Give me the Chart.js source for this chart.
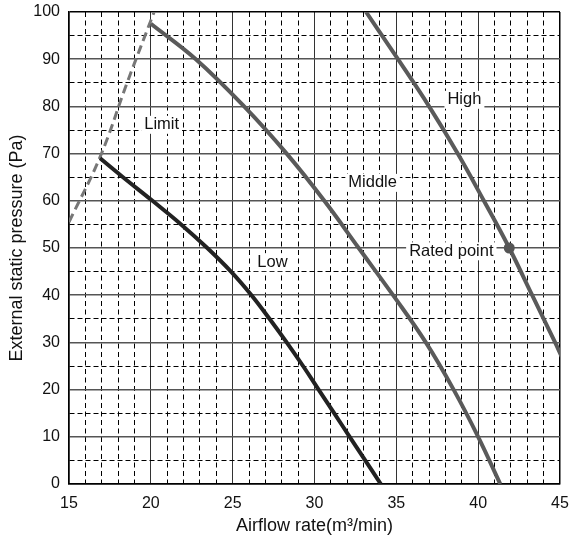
<!DOCTYPE html>
<html>
<head>
<meta charset="utf-8">
<script src="https://cdn.jsdelivr.net/npm/chart.js@4/dist/chart.umd.min.js"></script>
<style>
    html, body { margin: 0; padding: 0; background: #fff; }
</style>
</head>
<body>
<canvas id="grafico" width="573" height="539"></canvas>
<script>
// Curvas (x = caudal m3/min, y = presión Pa)
const bajaX   = [16.9, 18.3, 20.1, 21.85, 23.45, 24.9, 26.15, 27.25, 28.3, 29.3, 30.25, 31.2, 32.15, 33.1, 34.05];
const bajaY   = [69, 65, 60, 55, 50, 45, 40, 35, 30, 25, 20, 15, 10, 5, 0];

const mediaX  = [20.0, 22.75, 25.7, 28.3, 30.6, 32.7, 34.8, 36.8, 38.5, 40.0, 41.35];
const mediaY  = [97.5, 90, 80, 70, 60, 50, 40, 30, 20, 10, 0];

const altaX   = [33.15, 35.1, 37.0, 38.75, 40.35, 41.9, 43.3, 44.7, 45.1];
const altaY   = [100, 90, 80, 70, 60, 50, 40, 30, 27];

const limiteX = [15.0, 16.9, 18.55, 20.2];
const limiteY = [55.5, 69.3, 85, 100];

const puntoNominalX = [41.9];
const puntoNominalY = [50];

const etiquetas = [
    { texto: "Limit", x: 20.66, y: 76.1 },
    { texto: "High", x: 39.16, y: 81.4 },
    { texto: "Middle", x: 33.55, y: 63.8 },
    { texto: "Low", x: 27.43, y: 47.0 },
    { texto: "Rated point", x: 38.36, y: 49.3 }
];

const FUENTE = "'Liberation Sans', Arial, sans-serif";

const aPuntos = (xs, ys) => xs.map((x, i) => ({ x: x, y: ys[i] }));

const curva = (datos, color, ancho, guion) => ({
    data: datos,
    showLine: true,
    borderColor: color,
    borderWidth: ancho,
    borderDash: guion || [],
    pointRadius: 0,
    tension: 0.4,
    fill: false
});

// Etiquetas con fondo blanco que tapan la rejilla
const pluginEtiquetas = {
    id: "etiquetas",
    beforeDatasetsDraw(chart) {
        const ctx = chart.ctx;
        const sx = chart.scales.x;
        const sy = chart.scales.y;
        ctx.save();
        ctx.font = "16.5px " + FUENTE;
        ctx.textAlign = "center";
        ctx.textBaseline = "middle";
        etiquetas.forEach(e => {
            const px = sx.getPixelForValue(e.x);
            const py = sy.getPixelForValue(e.y);
            const w = ctx.measureText(e.texto).width;
            ctx.fillStyle = "#fff";
            ctx.fillRect(px - w / 2 - 3, py - 9, w + 6, 18);
            ctx.fillStyle = "#111";
            ctx.fillText(e.texto, px, py);
        });
        ctx.restore();
    }
};

const ctx = document.getElementById("grafico").getContext("2d");
new Chart(ctx, {
    type: "scatter",
    data: {
        datasets: [
            {
                data: aPuntos(puntoNominalX, puntoNominalY),
                pointRadius: 5.5,
                pointBackgroundColor: "#555",
                pointBorderWidth: 0,
                showLine: false
            },
            curva(aPuntos(bajaX, bajaY), "#222", 4),
            curva(aPuntos(mediaX, mediaY), "#5a5a5a", 4),
            curva(aPuntos(altaX, altaY), "#5a5a5a", 4),
            curva(aPuntos(limiteX, limiteY), "#777", 3, [9, 5])
        ]
    },
    options: {
        responsive: false,
        animation: false,
        layout: { padding: { top: 12, right: 13, left: 0, bottom: 0 } },
        plugins: {
            legend: { display: false },
            tooltip: { enabled: false }
        },
        scales: {
            x: {
                type: "linear",
                min: 15,
                max: 45,
                afterFit(scale) {
                    scale.height = 55;
                    scale.paddingLeft = 0;
                    scale.paddingRight = 0;
                },
                ticks: {
                    stepSize: 1,
                    autoSkip: false,
                    maxRotation: 0,
                    padding: 10,
                    color: "#111",
                    font: { family: FUENTE, size: 16 },
                    callback: v => (v % 5 === 0 ? v : "")
                },
                grid: {
                    drawTicks: false,
                    color: c => {
                        const v = c.tick.value;
                        if (v === 15 || v === 45) return "#000";
                        return v % 5 === 0 ? "#333" : "#000";
                    },
                    lineWidth: c => (c.tick.value === 15 || c.tick.value === 45 ? 1.5 : 1)
                },
                border: {
                    color: "#000",
                    width: 1.5,
                    dash: c => (c.tick && c.tick.value % 5 !== 0 ? [5, 3.5] : [])
                },
                title: {
                    display: true,
                    text: "Airflow rate(m³/min)",
                    color: "#111",
                    font: { family: FUENTE, size: 18 },
                    padding: { top: 0, bottom: 2.5 }
                }
            },
            y: {
                type: "linear",
                min: 0,
                max: 100,
                afterFit(scale) {
                    scale.width = 69;
                    scale.paddingTop = 0;
                    scale.paddingBottom = 0;
                },
                ticks: {
                    stepSize: 5,
                    autoSkip: false,
                    padding: 9,
                    color: "#111",
                    font: { family: FUENTE, size: 16 },
                    callback: v => (v % 10 === 0 ? v : "")
                },
                grid: {
                    drawTicks: false,
                    color: c => {
                        const v = c.tick.value;
                        if (v === 0 || v === 100) return "#000";
                        return v % 10 === 0 ? "#555" : "#000";
                    },
                    lineWidth: c => {
                        const v = c.tick.value;
                        if (v === 0 || v === 100) return 1.5;
                        return v % 10 === 0 ? 1.5 : 1;
                    }
                },
                border: {
                    color: "#000",
                    width: 1.5,
                    dash: c => (c.tick && c.tick.value % 10 !== 0 ? [5, 3] : [])
                },
                title: {
                    display: true,
                    text: "External static pressure (Pa)",
                    color: "#111",
                    font: { family: FUENTE, size: 18 },
                    padding: { top: 6, bottom: 0 }
                }
            }
        }
    },
    plugins: [pluginEtiquetas]
});
</script>
</body>
</html>
